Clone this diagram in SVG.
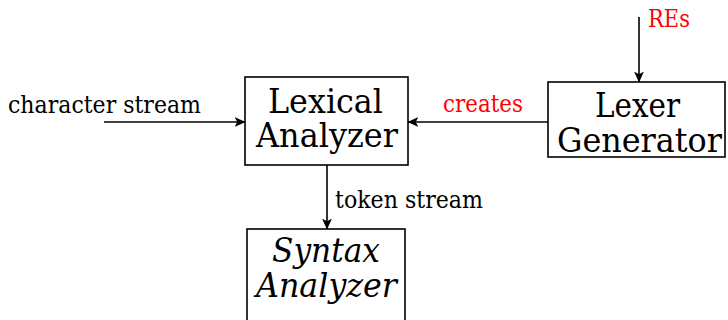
<svg xmlns="http://www.w3.org/2000/svg" width="728" height="320" viewBox="0 0 728 320">
  <style>
    .box { fill: #ffffff; stroke: #000000; stroke-width: 1.6; }
    .edge { fill: none; stroke: #000000; stroke-width: 1.6; }
    .lbl { font-family: "DejaVu Serif", "Liberation Serif", serif; font-size: 25px; fill: #000000; }
    .red { fill: #ff0000; }
    .node { font-family: "DejaVu Serif", "Liberation Serif", serif; font-size: 33px; fill: #000000; }
    .it { font-style: italic; }
  </style>
  <defs>
    <marker id="arrow" viewBox="0 0 10 10" refX="9.5" refY="5" markerWidth="11" markerHeight="11" markerUnits="userSpaceOnUse" orient="auto">
      <path d="M0,0.5 L10,5 L0,9.5 L2.5,5 Z" fill="#000000"/>
    </marker>
  </defs>

  <g id="connectors">
    <line class="edge" x1="104" y1="122" x2="245" y2="122" marker-end="url(#arrow)"/>
    <line class="edge" x1="548" y1="122" x2="408" y2="122" marker-end="url(#arrow)"/>
    <line class="edge" x1="639" y1="17" x2="639" y2="82" marker-end="url(#arrow)"/>
    <line class="edge" x1="327" y1="165" x2="327" y2="229" marker-end="url(#arrow)"/>
    <text class="lbl" x="8" y="113" textLength="193" lengthAdjust="spacingAndGlyphs">character stream</text>
    <text class="lbl red" x="443" y="112" textLength="80" lengthAdjust="spacingAndGlyphs">creates</text>
    <text class="lbl red" x="648" y="27" textLength="42" lengthAdjust="spacingAndGlyphs">REs</text>
    <text class="lbl" x="335" y="208" textLength="148" lengthAdjust="spacingAndGlyphs">token stream</text>
  </g>

  <g id="lexical-analyzer">
    <rect class="box" x="245" y="77" width="163" height="88"/>
    <text class="node" x="268" y="113" textLength="115" lengthAdjust="spacingAndGlyphs">Lexical</text>
    <text class="node" x="256" y="146.5" textLength="142" lengthAdjust="spacingAndGlyphs">Analyzer</text>
  </g>

  <g id="lexer-generator">
    <rect class="box" x="548" y="82" width="177" height="75"/>
    <text class="node" x="595" y="116.5" textLength="85" lengthAdjust="spacingAndGlyphs">Lexer</text>
    <text class="node" x="557" y="151.5" textLength="165" lengthAdjust="spacingAndGlyphs">Generator</text>
  </g>

  <g id="syntax-analyzer">
    <rect class="box" x="247" y="229" width="158" height="100"/>
    <text class="node it" x="272" y="262" textLength="108" lengthAdjust="spacingAndGlyphs">Syntax</text>
    <text class="node it" x="256" y="297" textLength="141" lengthAdjust="spacingAndGlyphs">Analyzer</text>
  </g>
</svg>
